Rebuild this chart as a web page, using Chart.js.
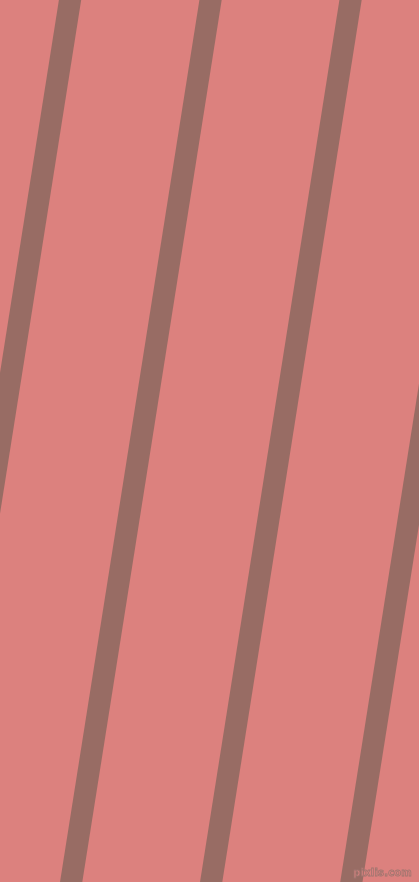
<!DOCTYPE html>
<html>
<head>
<meta charset="utf-8">
<script src="https://cdn.jsdelivr.net/npm/chart.js@4/dist/chart.umd.min.js"></script>
<style>
  html, body { margin: 0; padding: 0; background: #dc817e; overflow: hidden; }
  #wrap { position: relative; width: 419px; height: 882px; }
  #mark {
    position: absolute; right: 7px; bottom: 4px;
    font-family: "DejaVu Sans", sans-serif; font-size: 10px; font-weight: bold;
    color: #dc817e; -webkit-text-stroke: 0.8px #a07670; letter-spacing: 0.2px;
  }
</style>
</head>
<body>
<div id="wrap">
  <canvas id="chart"></canvas>
  <span id="mark">pixlis.com</span>
</div>
<script>
// each stripe is a straight line between two y stops (a bit past the edges)
const yStops = [-20, 902];
const stripe1 = [73.2, -72.5];
const stripe2 = [213.7, 68.0];
const stripe3 = [353.7, 208.0];
const stripe4 = [494.0, 348.2];

const stripes = [stripe1, stripe2, stripe3, stripe4];

const bgPlugin = {
  id: 'bg',
  beforeDraw(chart) {
    const ctx = chart.ctx;
    ctx.save();
    ctx.fillStyle = '#dc817e';
    ctx.fillRect(0, 0, chart.width, chart.height);
    ctx.restore();
  }
};

const canvas = document.getElementById('chart');
canvas.width = 419;
canvas.height = 882;

new Chart(canvas, {
  type: 'line',
  data: {
    datasets: stripes.map(xs => ({
      data: xs.map((x, i) => ({ x: x, y: yStops[i] })),
      borderColor: '#986c64',
      borderWidth: 22,
      borderCapStyle: 'butt',
      pointRadius: 0,
      fill: false,
      tension: 0,
    })),
  },
  options: {
    responsive: false,
    maintainAspectRatio: false,
    animation: false,
    layout: { padding: 0 },
    scales: {
      x: { type: 'linear', min: 0, max: 419, display: false },
      y: { type: 'linear', min: 0, max: 882, reverse: true, display: false },
    },
    plugins: {
      legend: { display: false },
      tooltip: { enabled: false },
    },
  },
  plugins: [bgPlugin],
});
</script>
</body>
</html>
